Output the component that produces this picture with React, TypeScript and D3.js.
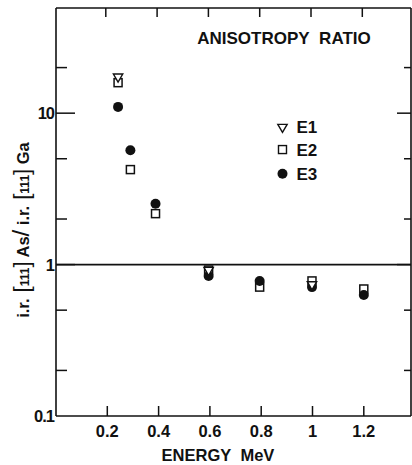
import React from "react";
import * as d3 from "d3";

// energies (MeV) and ratio values for each detector series
const e1Energy = [0.242, 0.595, 0.998];
const e1Ratio = [17.4, 0.92, 0.74];
const e2Energy = [0.242, 0.29, 0.388, 0.595, 0.794, 0.998, 1.2];
const e2Ratio = [15.9, 4.24, 2.17, 0.92, 0.71, 0.78, 0.69];
const e3Energy = [0.242, 0.29, 0.388, 0.595, 0.794, 0.998, 1.2];
const e3Ratio = [11.0, 5.69, 2.52, 0.84, 0.78, 0.71, 0.63];

const xTicks = [0.2, 0.4, 0.6, 0.8, 1, 1.2];
const xTickLabels = ["0.2", "0.4", "0.6", "0.8", "1", "1.2"];
const yMajor = [0.1, 1, 10];
const yMajorLabels = ["0.1", "1", "10"];
const yMinor = [0.2, 0.5, 2, 5, 20];
const legendNames = ["E1", "E2", "E3"];

const W = 412;
const H = 465;
const margin = { top: 8, right: 1, bottom: 49, left: 56 };

const font = "'Liberation Sans', Arial, sans-serif";
const ink = "#111";

export default function App() {
  const x = d3
    .scaleLinear()
    .domain([0, 1.384])
    .range([margin.left, W - margin.right]);
  const y = d3
    .scaleLog()
    .domain([0.1, 49.5])
    .range([H - margin.bottom, margin.top]);

  const x0 = x.range()[0];
  const x1 = x.range()[1];
  const y0 = y.range()[0];
  const y1 = y.range()[1];

  const tri = d3.symbol().type(d3.symbolTriangle).size(38)();
  const sq = 8;
  const r = 5;

  const e2 = e2Energy.map((e, i) => [e, e2Ratio[i]]);
  const e3 = e3Energy.map((e, i) => [e, e3Ratio[i]]);
  const e1 = e1Energy.map((e, i) => [e, e1Ratio[i]]);

  // legend position in data units
  const legX = 0.883;
  const legY = [8.1, 5.75, 3.98];

  return (
    <svg width={W} height={H} style={{ position: "absolute", left: 0, top: 0, background: "#fff" }}>
      <rect width={W} height={H} fill="#fff" />
      {/* frame */}
      <g stroke={ink} strokeWidth={1.6} fill="none">
        <line x1={x0} x2={x0} y1={y1} y2={y0} />
        <line x1={x0} x2={x1} y1={y0} y2={y0} />
        <line x1={x0} x2={x1} y1={y1} y2={y1} />
        <line x1={x1} x2={x1} y1={y1} y2={y0} />
        <line x1={x0} x2={x1} y1={y(1)} y2={y(1)} />
      </g>
      {/* ticks */}
      <g stroke={ink} strokeWidth={1.5}>
        {xTicks.map((t) => (
          <g key={t}>
            <line x1={x(t)} x2={x(t)} y1={y0} y2={y0 - 10} />
            <line x1={x(t) - 1.5} x2={x(t) - 1.5} y1={y1} y2={y1 + 9} />
          </g>
        ))}
        {yMajor.slice(1).map((t) => (
          <g key={t}>
            <line x1={x0} x2={x0 + 19} y1={y(t)} y2={y(t)} />
            <line x1={x1} x2={x1 - 14} y1={y(t)} y2={y(t)} />
          </g>
        ))}
        {yMinor.map((t) => (
          <g key={t}>
            <line x1={x0} x2={x0 + 11} y1={y(t)} y2={y(t)} />
            <line x1={x1} x2={x1 - 7} y1={y(t)} y2={y(t)} />
          </g>
        ))}
      </g>
      {/* labels */}
      <g fontFamily={font} fontSize={16.5} fontWeight="bold" fill={ink}>
        {xTicks.map((t, i) => (
          <text key={t} x={x(t)} y={y0 + 21} textAnchor="middle">
            {xTickLabels[i]}
          </text>
        ))}
        {yMajor.map((t, i) => (
          <text key={t} x={x0 - 2} y={y(t) + 6} textAnchor="end" letterSpacing={-1}>
            {yMajorLabels[i]}
          </text>
        ))}
        <text x={218} y={H - 4} textAnchor="middle">
          ENERGY{"\u00a0\u00a0"}MeV
        </text>
        <text x={284} y={44} textAnchor="middle" fontSize={17}>
          ANISOTROPY{"\u00a0\u00a0"}RATIO
        </text>
        <text
          transform={`translate(29, ${(y1 + y0) / 2 + 18}) rotate(-90)`}
          textAnchor="middle"
          fontSize={16.5}
        >
          <tspan>i.r.</tspan>
          <tspan fontSize={22} fontWeight="normal">{" ["}</tspan>
          <tspan fontSize={12}>111</tspan>
          <tspan fontSize={22} fontWeight="normal">{"]"}</tspan>
          <tspan>{" As"}</tspan>
          <tspan fontSize={24} fontWeight="normal">/</tspan>
          <tspan>{" i.r."}</tspan>
          <tspan fontSize={22} fontWeight="normal">{" ["}</tspan>
          <tspan fontSize={12}>111</tspan>
          <tspan fontSize={22} fontWeight="normal">{"]"}</tspan>
          <tspan>{" Ga"}</tspan>
        </text>
      </g>
      {/* data: squares, circles, triangles */}
      <g>
        {e2.map(([e, v], i) => (
          <rect
            key={"s" + i}
            x={x(e) - sq / 2}
            y={y(v) - sq / 2}
            width={sq}
            height={sq}
            fill="#fff"
            stroke={ink}
            strokeWidth={1.5}
          />
        ))}
        {e3.map(([e, v], i) => (
          <circle key={"c" + i} cx={x(e)} cy={y(v)} r={r} fill={ink} />
        ))}
        {e1.map(([e, v], i) => (
          <path
            key={"t" + i}
            d={tri}
            transform={`translate(${x(e)},${y(v)}) rotate(180)`}
            fill="#fff"
            stroke={ink}
            strokeWidth={1.4}
          />
        ))}
      </g>
      {/* legend */}
      <g fontFamily={font} fontSize={17} fontWeight="bold" fill={ink}>
        <path
          d={tri}
          transform={`translate(${x(legX)},${y(legY[0])}) rotate(180)`}
          fill="#fff"
          stroke={ink}
          strokeWidth={1.4}
        />
        <rect
          x={x(legX) - 4}
          y={y(legY[1]) - 4}
          width={8}
          height={8}
          fill="#fff"
          stroke={ink}
          strokeWidth={1.4}
        />
        <circle cx={x(legX)} cy={y(legY[2])} r={r} fill={ink} />
        {legendNames.map((n, i) => (
          <text key={n} x={x(legX) + 14} y={y(legY[i]) + 6}>
            {n}
          </text>
        ))}
      </g>
    </svg>
  );
}
